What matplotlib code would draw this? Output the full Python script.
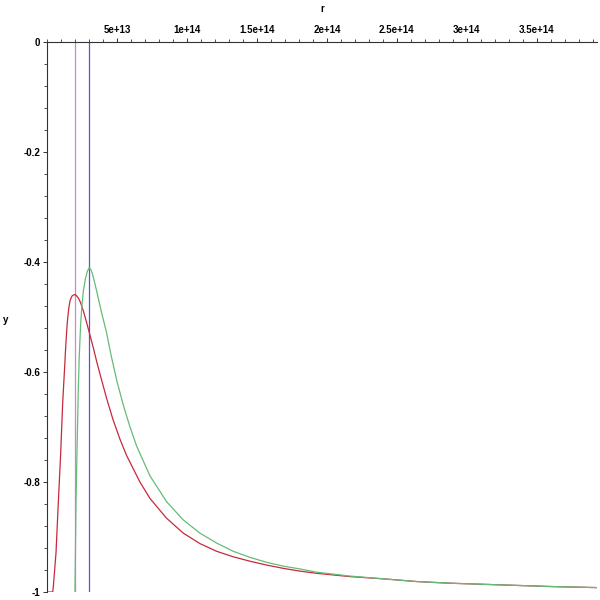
import numpy as np
import matplotlib
matplotlib.use("Agg")
import matplotlib.pyplot as plt
from matplotlib.ticker import MultipleLocator

# values (x in units of 1e13)
red_x = [0, 0.407, 0.45, 0.643, 0.807, 0.979, 1.121, 1.25, 1.35, 1.45, 1.55, 1.65, 1.78, 1.9,
         2.0, 2.1, 2.25, 2.4, 2.6, 2.84, 3.07, 3.31, 3.57, 3.79, 4.26, 4.71, 5.21, 5.69,
         6.64, 7.36, 8.55, 9.74, 10.93, 12.12, 13.31, 14.5, 15.69, 16.88, 18.07, 19.26,
         21.64, 24.0, 26.41, 28.79, 32.36, 35.93, 39.29]
red_y = [-1.0, -1.0, -0.991, -0.929, -0.838, -0.747, -0.656, -0.596, -0.548, -0.51, -0.485,
         -0.47, -0.462, -0.46, -0.459, -0.461, -0.466, -0.474, -0.489, -0.511, -0.533, -0.556,
         -0.583, -0.604, -0.648, -0.686, -0.722, -0.752, -0.8, -0.83, -0.866, -0.893, -0.912,
         -0.926, -0.936, -0.944, -0.951, -0.957, -0.962, -0.966, -0.972, -0.976, -0.981,
         -0.984, -0.987, -0.99, -0.992]

green_x = [2.0, 2.071, 2.164, 2.236, 2.3, 2.4, 2.5, 2.6, 2.75, 2.88, 3.0, 3.12, 3.25, 3.43,
           3.64, 3.9, 4.26, 4.6, 5.0, 5.45, 5.93, 6.41, 7.36, 8.55, 9.74, 10.93, 12.12, 13.31,
           14.5, 15.69, 16.88, 18.07, 19.26, 21.64, 24.0, 26.41, 28.79, 32.36, 35.93, 39.29]
green_y = [-1.0, -0.838, -0.718, -0.633, -0.575, -0.515, -0.478, -0.452, -0.43, -0.417, -0.411,
           -0.413, -0.422, -0.44, -0.463, -0.492, -0.529, -0.572, -0.617, -0.66, -0.7, -0.735,
           -0.789, -0.836, -0.869, -0.893, -0.911, -0.926, -0.937, -0.946, -0.953, -0.958,
           -0.964, -0.971, -0.976, -0.981, -0.984, -0.987, -0.99, -0.992]

vlines_x = [2.0, 3.0]
vlines_col = ['#cc88cc', '#5555cc']

xticks = [5, 10, 15, 20, 25, 30, 35]
xtick_labels = ['5e+13', '1e+14', '1.5e+14', '2e+14', '2.5e+14', '3e+14', '3.5e+14']
yticks = [0, -0.2, -0.4, -0.6, -0.8, -1]
ytick_labels = ['0', '-0.2', '-0.4', '-0.6', '-0.8', '-1']

plt.rcParams['font.family'] = ['Liberation Sans', 'DejaVu Sans']

fig = plt.figure(figsize=(6, 6), dpi=100)
ax = fig.add_axes([47/600, 8/600, 550/600, 550/600])

sc = 1e13
for vx, vc in zip(vlines_x, vlines_col):
    ax.plot([vx*sc, vx*sc], [0, -1], color=vc, lw=0.9)
ax.plot(np.array(red_x)*sc, red_y, color='#c8283c', lw=0.9)
ax.plot(np.array(green_x)*sc, green_y, color='#66bb77', lw=0.9)

ax.set_xlim(0, 3.93e14)
ax.set_ylim(-1, 0)

for s in ['right', 'bottom']:
    ax.spines[s].set_visible(False)
for s in ['left', 'top']:
    ax.spines[s].set_linewidth(0.8)
    ax.spines[s].set_color('#333333')

ax.xaxis.tick_top()
ax.set_xticks([t*sc for t in xticks])
ax.set_xticklabels(xtick_labels, fontsize=7, fontweight='bold')
ax.xaxis.set_minor_locator(MultipleLocator(1e13))
ax.set_yticks(yticks)
ax.set_yticklabels(ytick_labels, fontsize=7, fontweight='bold')
ax.yaxis.set_minor_locator(MultipleLocator(0.04))
ax.tick_params(which='major', length=3, width=0.7, pad=2, colors='#333333', labelcolor='black')
ax.tick_params(which='minor', length=2, width=0.6, colors='#333333')

# axis names, placed like the maple output
fig.text(322/600, 1 - 9/600, 'r', fontsize=7, fontweight='bold', ha='center', va='center')
fig.text(6/600, 1 - 320/600, 'y', fontsize=7, fontweight='bold', ha='center', va='center')

fig.savefig('out.png', dpi=100)
